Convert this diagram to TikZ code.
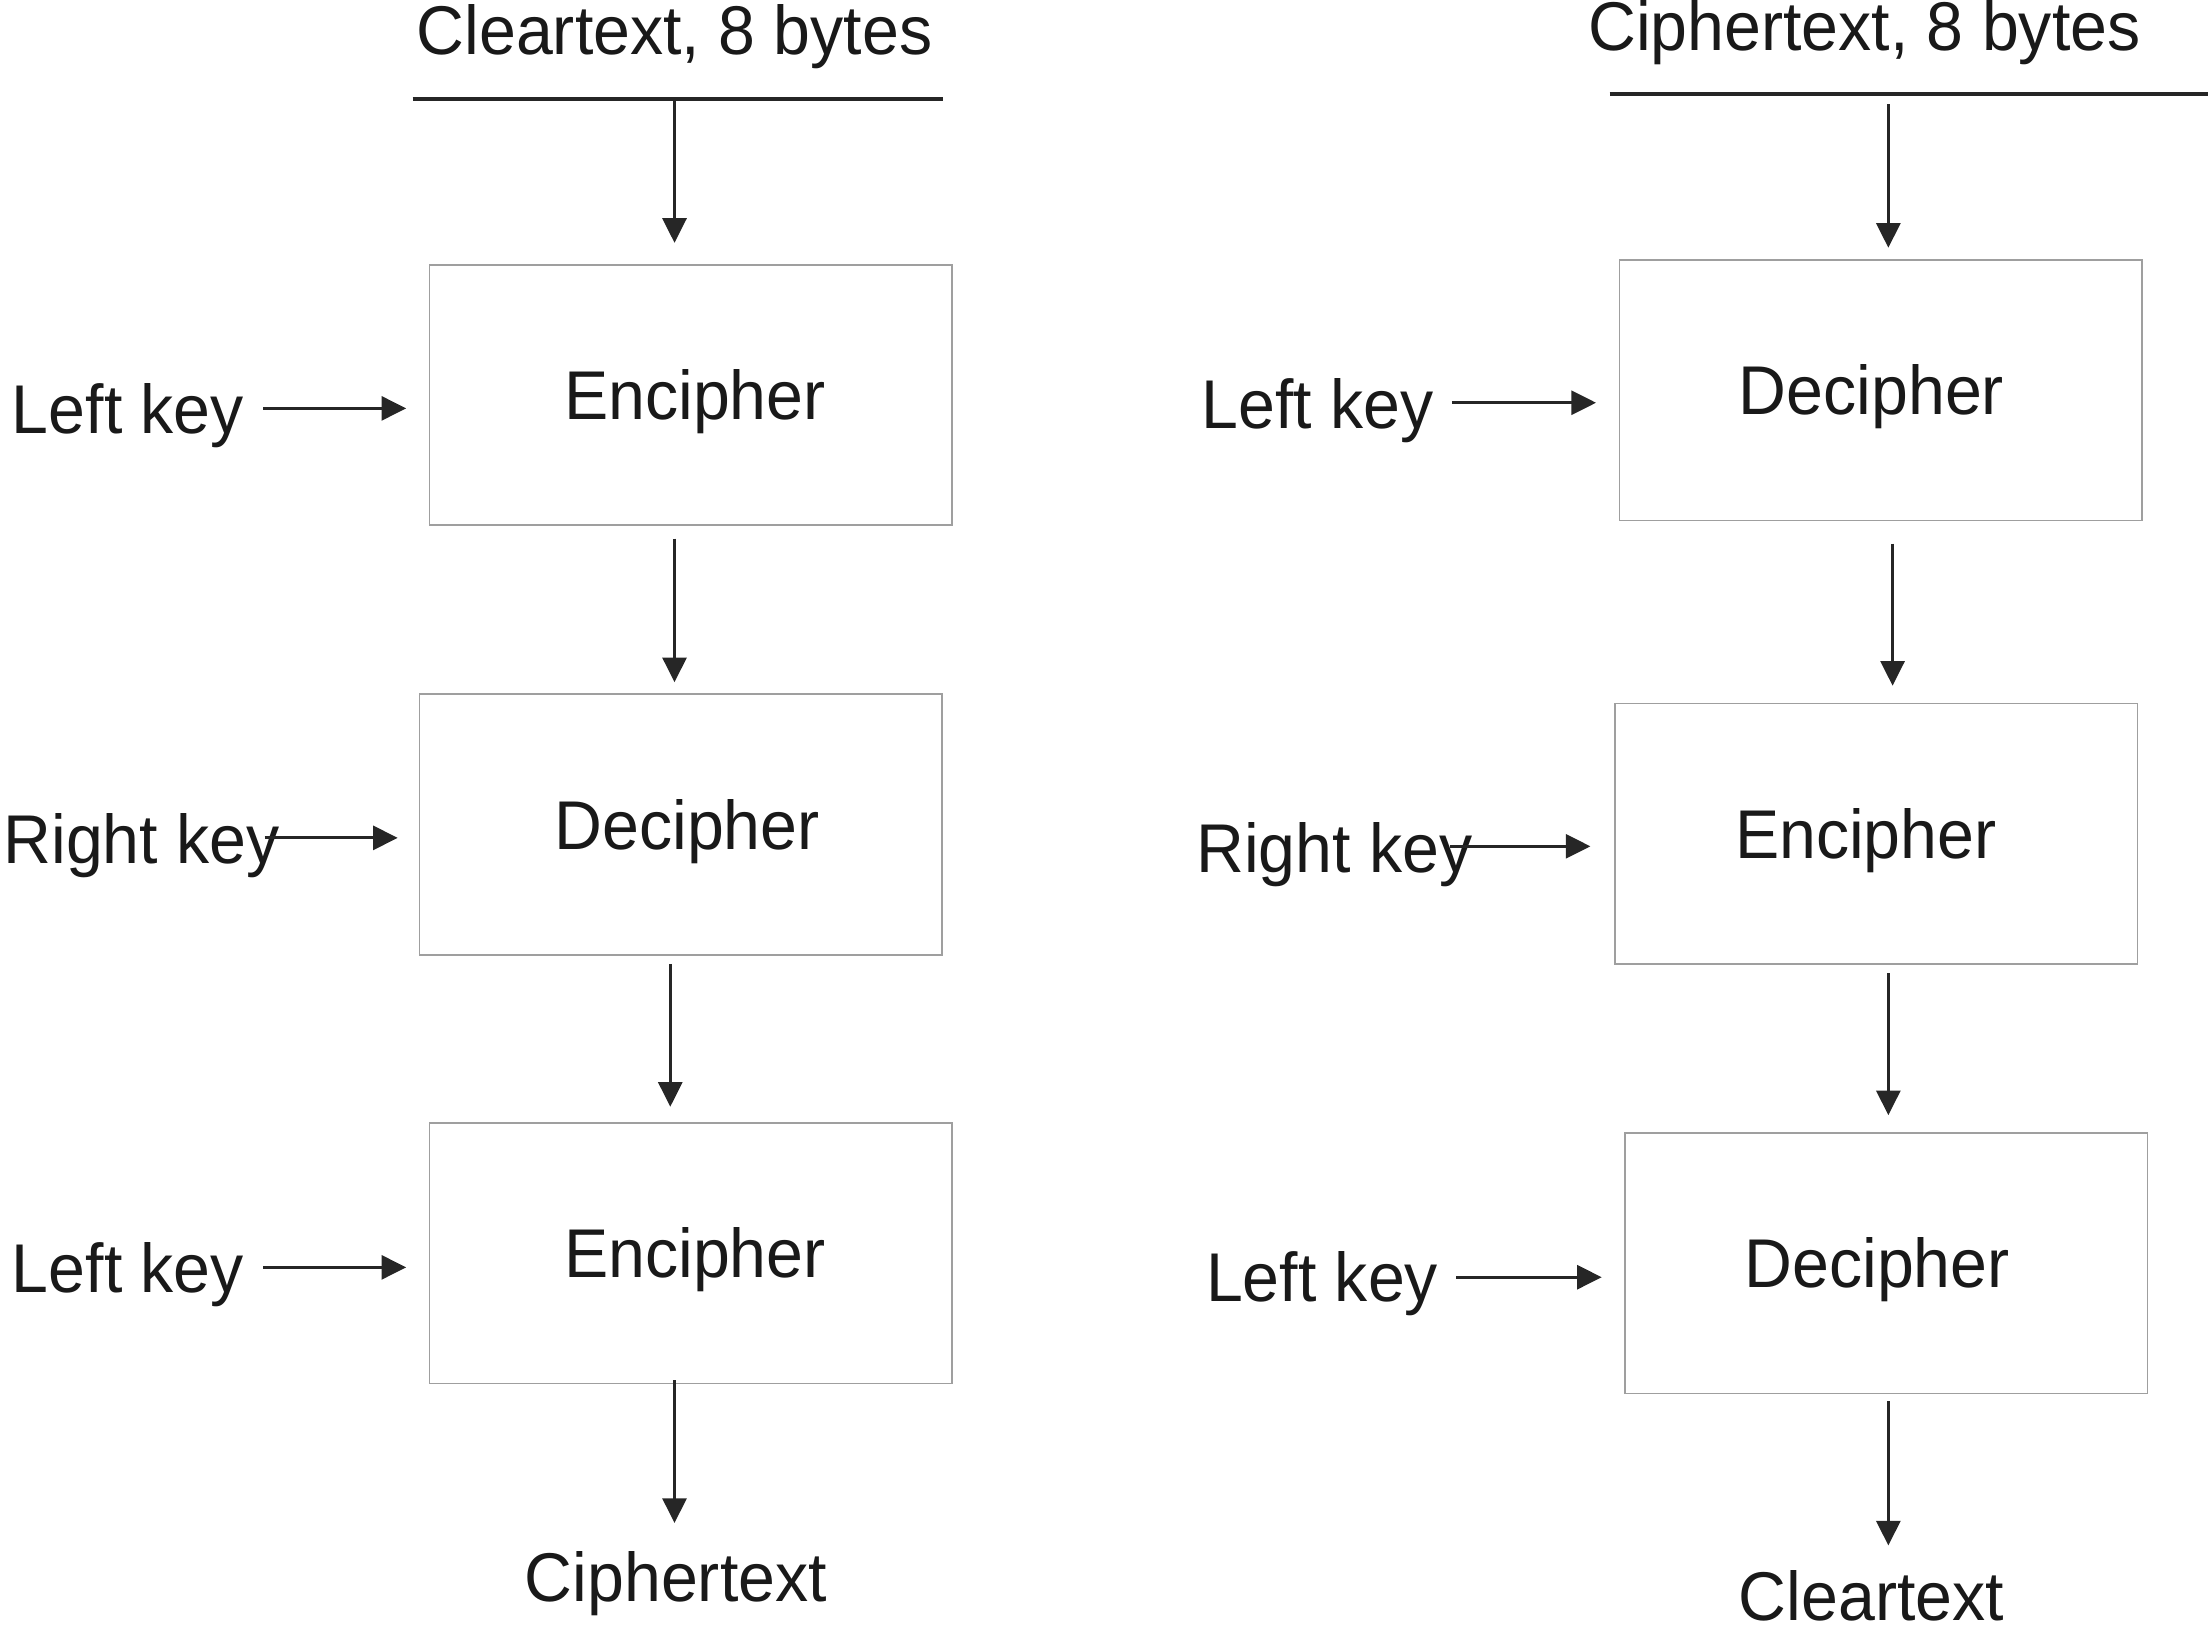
\documentclass[tikz,border=0pt]{standalone}
\usepackage{fontspec}
\setmainfont{Liberation Sans}[FakeStretch=0.96]
\usetikzlibrary{arrows.meta,calc}
\begin{document}
\begin{tikzpicture}[x=0.4pt,y=-0.4pt,
  every node/.style={font=\fontsize{19.6pt}{23pt}\selectfont, text height=14pt, text depth=0pt, inner sep=0pt, text=black!90},
  cbox/.style={draw=gray!75, line width=0.45pt, minimum width=148.4pt, minimum height=74pt},
  arr/.style={line width=0.9pt, draw=black!85, -{Triangle[length=7pt,width=6.8pt]}},
  bar/.style={line width=1.1pt, draw=black!85}]
\useasboundingbox (0,0) rectangle (1568,1155);
% ---------- left column ----------
\node (t1) at (479,21) {Cleartext, 8 bytes};
\coordinate (l1a) at (293,70);
\coordinate (l1b) at (670,70);
\draw[bar] (l1a) -- (l1b);
\node[cbox] (b1) at (490.5,280.5) {\kern2.4pt Encipher};
\node[cbox] (b2) at (483.5,585.5) {\kern3.6pt Decipher};
\node[cbox] (b3) at (490.5,890) {\kern2.4pt Encipher};
\node (out1) at (480,1120) {Ciphertext};
\node[anchor=west] (k1) at (8,290) {Left key};
\node[anchor=west] (k2) at (2,596) {Right key};
\node[anchor=west] (k3) at (8,900) {Left key};
\coordinate (s1) at (479,70);
\draw[arr] (s1) -- ($(s1 |- b1.north)+(0,-15)$);
\draw[arr] ($(b1.south)+(-11.5,9)$) -- ($(b2.north)+(-4.5,-8)$);
\draw[arr] ($(b2.south)+(-7.5,6)$) -- ($(b3.north)+(-14.5,-11)$);
\draw[arr] ($(b3.south)+(-11.5,-3)$) -- ($(out1.north)+(-1,-20.5)$);
\coordinate (a1) at (187,290);
\coordinate (a2) at (188,595);
\coordinate (a3) at (187,900);
\draw[arr] (a1) -- ($(a1 -| b1.west)+(-16,0)$);
\draw[arr] (a2) -- ($(a2 -| b2.west)+(-15,0)$);
\draw[arr] (a3) -- ($(a3 -| b3.west)+(-16,0)$);
% ---------- right column ----------
\node (t2) at (1324,18) {Ciphertext, 8 bytes};
\coordinate (l2a) at (1143,67);
\coordinate (l2b) at (1568,67);
\draw[bar] (l2a) -- (l2b);
\node[cbox] (c1) at (1335.5,277) {Decipher\kern5.2pt};
\node[cbox] (c2) at (1332.5,592) {Encipher\kern6pt};
\node[cbox] (c3) at (1339.5,897) {Decipher\kern5.2pt};
\node (out2) at (1329,1133) {Cleartext};
\node[anchor=west] (k4) at (853,287) {Left key};
\node[anchor=west] (k5) at (849,602) {Right key};
\node[anchor=west] (k6) at (856,907) {Left key};
\coordinate (s2) at (1341,67);
\draw[arr] ($(s2)+(0,7)$) -- ($(s2 |- c1.north)+(0,-8)$);
\draw[arr] ($(c1.south)+(8.5,16)$) -- ($(c2.north)+(11.5,-12)$);
\draw[arr] ($(c2.south)+(8.5,6)$) -- ($(c3.north)+(1.5,-12)$);
\draw[arr] ($(c3.south)+(1.5,5)$) -- ($(out2.north)+(12,-17.5)$);
\coordinate (a4) at (1031,286);
\coordinate (a5) at (1030,601);
\coordinate (a6) at (1034,907);
\draw[arr] (a4) -- ($(a4 -| c1.west)+(-16,0)$);
\draw[arr] (a5) -- ($(a5 -| c2.west)+(-17,0)$);
\draw[arr] (a6) -- ($(a6 -| c3.west)+(-16,0)$);
\end{tikzpicture}
\end{document}
